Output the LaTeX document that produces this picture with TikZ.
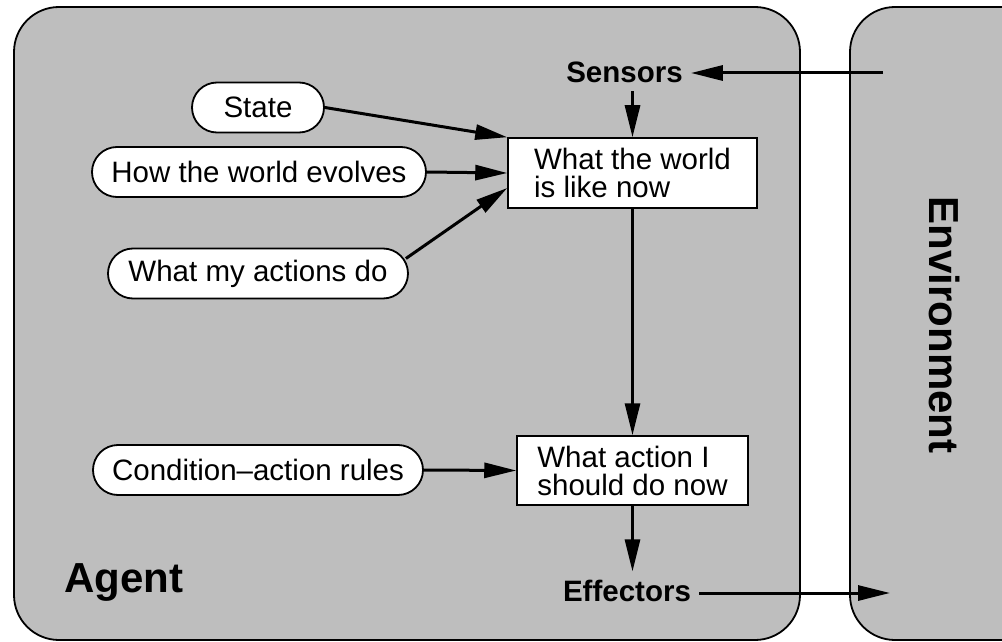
\documentclass[tikz,border=0pt]{standalone}
\usepackage{fontspec}
\setmainfont{Liberation Sans}
\usetikzlibrary{arrows.meta,shapes.misc,calc}
\definecolor{panelgray}{RGB}{190,190,190}
\tikzset{
  panel/.style={draw=black, line width=1.8pt, fill=panelgray, rounded corners=45pt},
  pill/.style={rounded rectangle, draw=black, line width=1.8pt, fill=white,
    font=\fontsize{29.5}{28}\selectfont, minimum height=50pt, inner xsep=0pt, inner ysep=0pt},
  statebox/.style={rectangle, draw=black, line width=1.5pt, fill=white, align=left,
    font=\fontsize{29.5}{28}\selectfont, inner sep=0pt},
  arr/.style={line width=3pt, -{Triangle[length=32pt,width=15pt]}},
  io/.style={font=\bfseries\fontsize{29.5}{29}\selectfont, inner sep=8pt},
  biglbl/.style={font=\bfseries\fontsize{42}{42}\selectfont, inner sep=0pt},
}
\begin{document}
\begin{tikzpicture}[x=1pt,y=-1pt]
\useasboundingbox (0,0) rectangle (1002,642);
\clip (0,0) rectangle (1002,642);
% panels
\draw[panel] (14,7) rectangle (800,640);
\draw[panel] (850,7) rectangle (1060,640);
% labels
\node[biglbl, anchor=base] (agent) at (124,592) {Agent};
\node[biglbl, rotate=-90] (env) at (945,325) {Environment};
% internal state
\node[pill, minimum width=132pt] (state) at (258,107.5) {State};
\node[pill, minimum width=334pt] (evolve) at (259,172) {How the world evolves};
\node[pill, minimum width=300pt] (acts) at (258,273.5) {What my actions do};
\node[pill, minimum width=330pt] (rules) at (258,470) {Condition--action rules};
% boxes
\node[statebox, minimum width=249pt, minimum height=70pt] (world) at (632.5,173) {What the world\\is like now};
\node[statebox, minimum width=231pt, minimum height=69pt] (action) at (632.5,470.5) {What action I\\should do now};
% sensors / effectors
\node[io, anchor=base] (sensors) at (624.5,83) {Sensors};
\node[io, anchor=base] (effectors) at (627,601) {Effectors};
\coordinate (percept) at (883,73);
\coordinate (actout) at (890,593);
% connectors
\draw[arr] (percept) -- (percept -| sensors.east);
\draw[arr] (sensors.south -| world.north) -- (world.north);
\draw[arr] (state.east) -- (world.north west);
\draw[arr] (evolve.east) -- (world.west);
\draw[arr] ($(acts.east)+(-3,-15)$) -- ($(world.west)+(0,15)$);
\draw[arr] (world.south) -- (action.north);
\draw[arr] (rules.east) -- (action.west);
\draw[arr] (action.south) -- (action.south |- effectors.north);
\draw[arr] (effectors.east |- actout) -- (actout);
\end{tikzpicture}
\end{document}
